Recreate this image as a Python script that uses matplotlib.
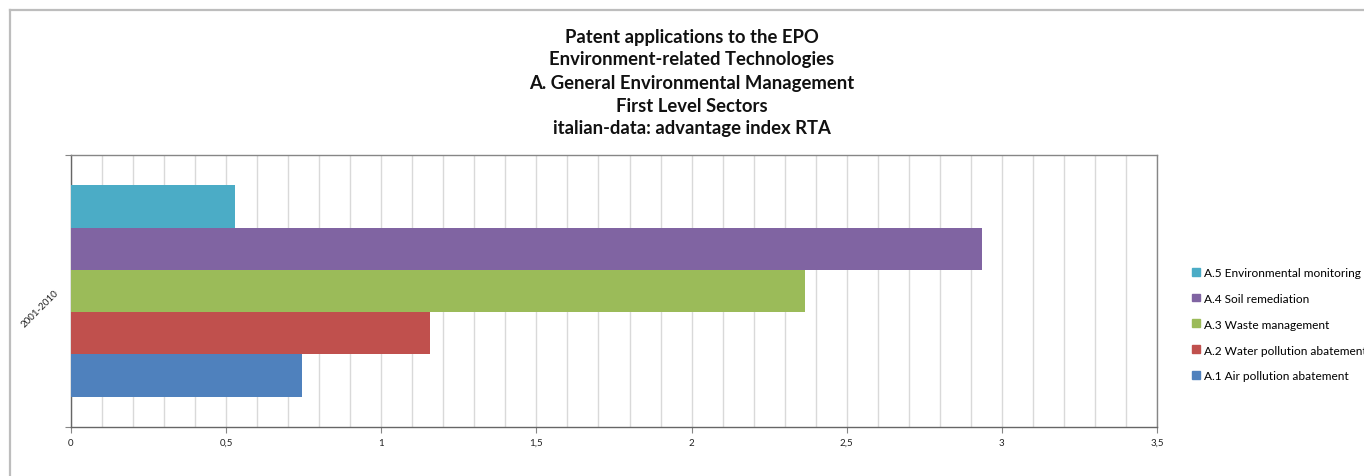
import matplotlib
matplotlib.use("Agg")
import matplotlib.pyplot as plt
from matplotlib.patches import Rectangle
from matplotlib.lines import Line2D
from matplotlib.ticker import MultipleLocator, FixedLocator

category = "2001-2010"
series = ["A.1 Air pollution abatement", "A.2 Water pollution abatement",
          "A.3 Waste management", "A.4 Soil remediation",
          "A.5 Environmental monitoring"]
values = [0.745, 1.157, 2.366, 2.935, 0.528]
colors = ["#4f81bd", "#c0504d", "#9bbb59", "#8064a2", "#4bacc6"]
xticks = [0, 0.5, 1, 1.5, 2, 2.5, 3, 3.5]
xticklabels = ["0", "0,5", "1", "1,5", "2", "2,5", "3", "3,5"]
title_lines = ["Patent applications to the EPO",
               "Environment-related Technologies",
               "A. General Environmental Management",
               "First Level Sectors",
               "italian-data: advantage index RTA"]

W, H = 1364, 477
fig = plt.figure(figsize=(W / 100, H / 100), dpi=100)
plt.rcParams['font.family'] = ['Lato', 'DejaVu Sans']

# outer frame
fig.add_artist(Line2D([10 / W, 1.0], [1 - 11 / H, 1 - 11 / H], color="#bdbdbd", lw=1.6))
fig.add_artist(Line2D([10 / W, 10 / W], [0, 1 - 11 / H], color="#bdbdbd", lw=1.6))

left, right, top, bottom = 71, 1157, 156, 428
ax = fig.add_axes([left / W, 1 - bottom / H, (right - left) / W, (bottom - top) / H])

n = len(series)
group = 0.776
h = group / n
for i, (s, v, c) in enumerate(zip(series, values, colors)):
    y = -group / 2 + h * (i + 0.5)
    ax.barh(y, v, height=h, color=c, label=s, zorder=3)

ax.set_xlim(0, 3.5)
ax.set_ylim(-0.5, 0.5)
ax.xaxis.set_major_locator(FixedLocator(xticks))
ax.set_xticklabels(xticklabels, fontsize=7, color="#222222")
ax.xaxis.set_minor_locator(MultipleLocator(0.1))
ax.grid(True, which="both", axis="x", color="#d9d9d9", lw=1.0, zorder=0)
ax.tick_params(axis="x", which="major", length=4, width=0.8, color="#868686", pad=4)
ax.tick_params(axis="x", which="minor", length=0)

ax.set_yticks([0])
ax.set_yticklabels([""])
ax.tick_params(axis="y", which="major", length=0)
ax.yaxis.set_minor_locator(FixedLocator([-0.5, 0.5]))
ax.tick_params(axis="y", which="minor", length=4, width=0.8, color="#868686")
fig.text(40 / W, 1 - 309 / H, category, rotation=45, fontsize=7, color="#222222",
         ha="center", va="center")

for sp in ax.spines.values():
    sp.set_color("#868686")
    sp.set_linewidth(1.0)
ax.spines["left"].set_color("#666666")
ax.spines["bottom"].set_color("#666666")

# title
for k, line in enumerate(title_lines):
    fig.text(692 / W, 1 - (37 + 23 * k) / H, line, ha="center", va="center",
             fontsize=13.3, fontweight="bold", color="#111111")

# legend, A.5 at top
handles = [Rectangle((0, 0), 1, 1, color=c) for c in colors][::-1]
labels = series[::-1]
leg = fig.legend(handles, labels, loc="upper left",
                 bbox_to_anchor=(1187 / W, 1 - 263 / H),
                 frameon=False, fontsize=8.6, handlelength=0.65, handleheight=0.65,
                 handletextpad=0.4, labelspacing=1.25, borderaxespad=0)

fig.savefig("out.png", dpi=100)
